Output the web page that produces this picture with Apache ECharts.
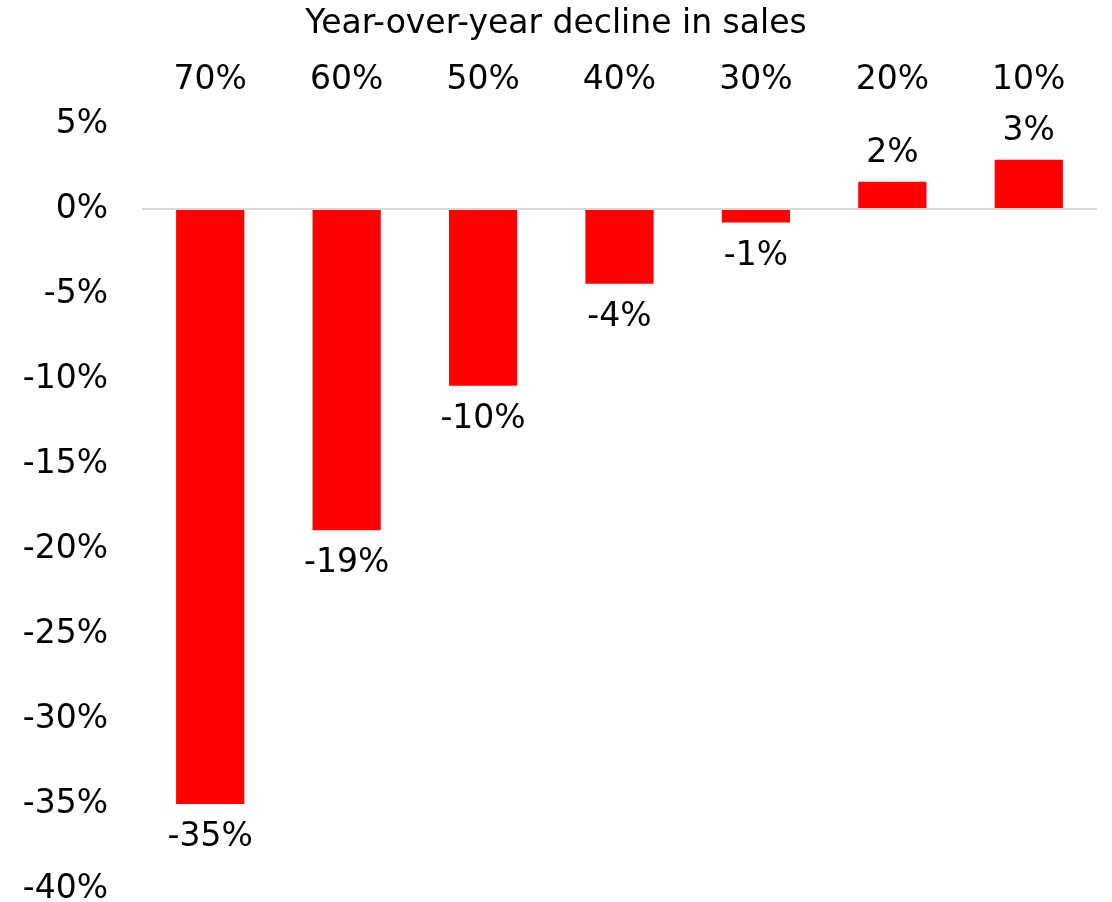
<!DOCTYPE html>
<html>
<head>
<meta charset="utf-8">
<style>
  html, body { margin: 0; padding: 0; background: #fff; }
  #chart { width: 1112px; height: 902px; }
</style>
<script src="https://cdn.jsdelivr.net/npm/echarts@6/dist/echarts.min.js"></script>
</head>
<body>
<div id="chart"></div>
<script>
  // decline in sales (categories) and resulting change (values, %)
  const categories = ['70%', '60%', '50%', '40%', '30%', '20%', '10%']
  const changes = [-35.0, -18.9, -10.4, -4.4, -0.8, 1.6, 2.9]
  const yTicks = { min: -40, max: 5, step: 5 }

  const font = 'Verdana, "DejaVu Sans", sans-serif'
  const fs = 33
  const chart = echarts.init(document.getElementById('chart'))

  // negative bars get their label below, positive above
  const barData = changes.map(v => ({
    value: v,
    label: v < 0 ? { position: 'bottom', distance: 17 } : { position: 'top', distance: 12 }
  }))

  const option = {
    animation: false,
    title: {
      text: 'Year-over-year decline in sales',
      left: 'center',
      top: 3,
      textStyle: { fontFamily: font, fontSize: fs, fontWeight: 'normal', color: '#000' }
    },
    grid: { left: 142, right: 15, top: 124, bottom: 13, outerBoundsMode: 'none' },
    xAxis: {
      type: 'category',
      position: 'top',
      data: categories,
      axisLine: { show: false },
      axisTick: { show: false },
      axisLabel: { margin: 27, fontFamily: font, fontSize: fs, color: '#000' }
    },
    yAxis: {
      type: 'value',
      min: yTicks.min,
      max: yTicks.max,
      interval: yTicks.step,
      splitLine: { show: false },
      axisLine: { show: false },
      axisTick: { show: false },
      axisLabel: {
        margin: 34, fontFamily: font, fontSize: fs, color: '#000',
        formatter: '{value}%'
      }
    },
    series: [{
      type: 'bar',
      data: barData,
      barWidth: '50%',
      itemStyle: { color: '#ff0000' },
      label: {
        show: true,
        fontFamily: font,
        fontSize: fs,
        color: '#000',
        formatter: p => Math.round(p.value) + '%'
      },
      markLine: {
        silent: true,
        symbol: 'none',
        label: { show: false },
        lineStyle: { color: '#d9d9d9', width: 2, type: 'solid' },
        data: [{ yAxis: 0 }]
      }
    }]
  }

  chart.setOption(option)
</script>
</body>
</html>
